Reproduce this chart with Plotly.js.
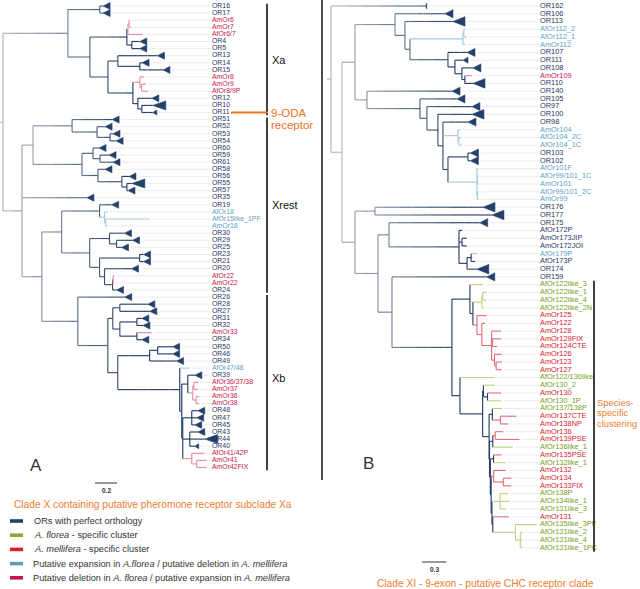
<!DOCTYPE html>
<html><head><meta charset="utf-8">
<script src="https://cdn.plot.ly/plotly-3.0.1.min.js"></script>
<style>html,body{margin:0;padding:0;background:#fff}#chart{width:640px;height:589px}</style>
</head><body><div id="chart"></div>
<script>
// ---------------- DATA ----------------
// Tree A: Clade X (branch lengths in substitutions/site)
const treeA = `(
 ((OR16:0.03,OR17:0.03):0.29,
  ((((AmOr6:0.01,AmOr7:0.02):0.01,AfOr6/7:0.13):0.01,(OR4:0.073,OR5:0.073):0.045):0.336,
   ((OR13:0.36,(OR14:0.02,OR15:0.21):0.2):0.09,
    ((AmOr8:0.04,(AmOr9:0.04,AfOr8/9P:0.06):0.015):0.064,(OR12:0.127,(OR10:0.1,OR11:0.1):0.036):0.045):0.227):0.164):0.2):0.59,
 (((OR51:0.364,(OR52:0.073,(OR53:0.027,OR54:0.055):0.118):0.227):0.355,
   ((OR60:0.055,(OR59:0.082,OR61:0.118):0.064):0.1,(OR58:0.064,(OR56:0.064,(OR55:0.045,OR57:0.01):0.045):0.218):0.145):0.445):0.1,
  OR35:0.59,
  (((OR19:0.11,(AfOr18:0.03,(AfOr15like_1PF:0.4,AmOr18:0.02):0.01):0.045):0.345,
    ((OR30:0.136,(OR29:0.145,OR25:0.045):0.064):0.18,
     ((OR23:0.036,OR21:0.036):0.364,(OR20:0.245,((AfOr22:0.01,AmOr22:0.01):0.005,OR24:0.036):0.073):0.045):0.09):0.255):0.18,
   (OR26:0.427,
    (((OR28:0.255,OR27:0.273):0.064,((OR31:0.045,OR32:0.055):0.155,(AmOr33:0.136,OR34:0.045):0.155):0.064):0.045,
     (((OR50:0.136,OR46:0.136):0.073,OR49:0.245):0.29,
      (AfOr47/48:0.09,
       ((OR39:0.064,((AfOr36/37/38:0.04,AmOr37:0.04):0.01,(AmOr36:0.03,AmOr38:0.03):0.03):0.045):0.055,
        ((OR48:0.055,OR47:0.045,OR45:0.027):0.082,(OR43:0.073,OR44:0.136,OR40:0.045):0.064,
         (AfOr41/42P:0.118,(AmOr41:0.09,AmOr42FIX:0.09):0.045):0.082):0.009):0.018):0.564):0.09):0.273):0.327):0.18):0.173
);`;

// Tree B: Clade XI
const treeB = `(
 OR162:1.17,
 (((OR106:0.617,
    (OR113:0.593,
     (((AfOr112_2:0.02,AfOr112_1:0.04):0.01,AmOr112:0.03):0.654,
      (OR107:0.235,(OR111:0.1,(OR108:0.136,(AmOr109:0.086,OR110:0.1):0.037):0.086):0.086):0.469):0.062):0.123):0.494,
   (OR140:1.05,
    (OR105:0.457,
     (OR97:0.556,
      (OR100:0.42,
       (OR98:0.309,
        (AmOr104:0.03,(AfOr104_2C:0.03,AfOr104_1C:0.04):0.01):0.185,
        ((OR103:0.03,OR102:0.03):0.247,
         (AfOr101F:0.02,(AfOr99/101_1C:0.02,AmOr101:0.02):0.005,(AfOr99/101_2C:0.02,AmOr99:0.02):0.005):0.358):0.062):0.062):0.136):0.086):0.654):0.148):0.16,
  ((OR176:1.333,OR177:1.444):0.247,
   ((OR175:1.12,
     (AfOr172P:0.04,(AmOr173JIP:0.06,AmOr172JOI:0.06):0.037,((AfOr179P:0.08,AfOr173P:0.05):0.05,OR174:0.12):0.1):0.864):0.136,
    (OR159:1.17,
     ((AfOr122like_3:0.16,
       (((AfOr122like_1:0.05,AfOr122like_4:0.05):0.01,AfOr122like_2N:0.03):0.111,
        (AmOr125:0.12,(AmOr122:0.04,(AmOr128:0.12,(AmOr129FIX:0.11,AmOr124CTE:0.06):0.012,
          (AmOr126:0.09,(AmOr123:0.07,AmOr127:0.07):0.02):0.037):0.12):0.06):0.05):0.037):0.222,
      (AfOr122/130like:0.43,
       ((AfOr130_2:0.14,(AmOr130:0.17,AfOr130_1P:0.17):0.05):0.01,
        ((AfOr137/138P:0.12,(AmOr137CTE:0.2,AmOr138NP:0.1):0.1):0.04,
         (((AmOr136:0.1,AmOr139PSE:0.3):0.03,AfOr136like_1:0.25):0.04,
          ((AmOr135PSE:0.1,AfOr132like_1:0.15):0.04,
           ((AmOr132:0.15,(AmOr134:0.1,AmOr133FIX:0.1):0.12):0.03,
            ((AfOr138P:0.1,AfOr134like_1:0.12,AfOr131like_3:0.08):0.1,
             (AmOr131:0.2,(AfOr135like_3PF:0.27,(AfOr131like_2:0.03,AfOr131like_4:0.03,AfOr131like_1PC:0.03):0.06):0.28):0.01):0.01):0.01):0.01):0.005):0.08):0.28):0.099):0.74):0.173):0.284):0.16):0.136
);`;

// leaf categories
const tealA = ["AfOr18","AfOr15like_1PF","AmOr18","AfOr47/48"];
const crimsonA = ["AmOr6","AmOr7","AfOr6/7","AmOr8","AmOr9","AfOr8/9P","AfOr22","AmOr22","AmOr33",
  "AfOr36/37/38","AmOr37","AmOr36","AmOr38","AfOr41/42P","AmOr41","AmOr42FIX"];
const tealB = ["AfOr112_2","AfOr112_1","AmOr112","AmOr104","AfOr104_2C","AfOr104_1C","AfOr101F",
  "AfOr99/101_1C","AmOr101","AfOr99/101_2C","AmOr99","AfOr179P"];
const crimsonB = ["AmOr109"];
const redB = ["AmOr125","AmOr122","AmOr128","AmOr129FIX","AmOr124CTE","AmOr126","AmOr123","AmOr127",
  "AmOr130","AmOr137CTE","AmOr138NP","AmOr136","AmOr139PSE","AmOr135PSE","AmOr132","AmOr134","AmOr133FIX","AmOr131"];
const greenB = ["AfOr122like_3","AfOr122like_1","AfOr122like_4","AfOr122like_2N","AfOr122/130like","AfOr130_2",
  "AfOr130_1P","AfOr137/138P","AfOr136like_1","AfOr132like_1","AfOr138P","AfOr134like_1","AfOr131like_3",
  "AfOr135like_3PF","AfOr131like_2","AfOr131like_4","AfOr131like_1PC"];

// collapsed-clade triangle sizes
const bigTriA = ["OR10","OR55","OR44"];
const smallTriA = ["OR11","OR40"];
const bigTriB = ["OR113","OR110","OR100","OR177","OR174","OR176"];
const smallTriB = ["OR111"];
const tickTriB = ["OR162"];

// subclades
const cladeNamesA = ["Xa","Xrest","Xb"];
const cladeFirstA = ["OR16","OR51","OR26"];
const cladeLastA  = ["OR11","OR24","AmOr42FIX"];
const cladeFirstB = "AfOr122like_3", cladeLastB = "AfOr131like_1PC";
const cladeNoteB = ["Species-","specific","clustering"];

const scaleA = 0.2, scaleB = 0.3;
const titleA = "Clade X containing putative pheromone receptor subclade Xa";
const titleB = "Clade XI - 9-exon - putative CHC receptor clade";
const legendLabels = ["ORs with perfect orthology","<i>A. florea</i> - specific cluster",
  "<i>A. mellifera</i> - specific cluster",
  "Putative expansion in <i>A.florea</i> / putative deletion in <i>A. mellifera</i>",
  "Putative deletion in <i>A. florea</i> / putative expansion in <i>A. mellifera</i>"];
const legendColors = ["#1f4068","#8aaa2a","#e0202a","#5f9fa8","#c8165a"];

// ---------------- STYLE / GEOMETRY ----------------
const W = 640, H = 589;
const FONT = "Liberation Sans, Arial, sans-serif";
const textColor = {navy:"#1f3764", teal:"#5ea3c6", crimson:"#cc1746", red:"#d81b2c", green:"#76a016"};
const branchColor = {teal:"#a6cbe0", crimson:"#e890a4", red:"#e3707e", green:"#c9cd84"};
const triColor = "#24406a";
const gradA = "#b0b4ba", gradB = "#263f66", NB = 8;
const cfgA = {ppu:110, rootPx:3, ppl:7.1, top:6, labelPx:212, tri:{n:[7,7],big:[13,9],small:[4,5]}, fs:6.9, xa:'x', ya:'y'};
const cfgB = {ppu:81, rootPx:331, ppl:7.74, top:6, labelPx:540, tri:{n:[8,8],big:[12,9.5],small:[5,6]}, fs:7.4, xa:'x2', ya:'y2'};

function parseNewick(str){
  const s = str.replace(/\s+/g,'');
  let i = 0;
  function node(){
    const n = {children:[], name:'', len:0};
    if (s[i] === '('){
      i++;
      n.children.push(node());
      while (s[i] === ','){ i++; n.children.push(node()); }
      i++;
    }
    let name = '';
    while (i < s.length && !',:();'.includes(s[i])) name += s[i++];
    n.name = name;
    if (s[i] === ':'){ i++; let num=''; while (i < s.length && !',();'.includes(s[i])) num += s[i++]; n.len = parseFloat(num); }
    return n;
  }
  return node();
}
function layoutTree(root){
  const leaves = []; let idx = 0;
  (function place(n, px){
    n.x = px + n.len;
    if (!n.children.length){ n.y = idx++; leaves.push(n); }
    else { n.children.forEach(c => place(c, n.x)); n.y = (n.children[0].y + n.children[n.children.length-1].y)/2; }
  })(root, 0);
  return leaves;
}
function hex2rgb(h){ return [1,3,5].map(k=>parseInt(h.slice(k,k+2),16)); }
function mix(a,b,t){ const A=hex2rgb(a),B=hex2rgb(b); return 'rgb('+A.map((v,k)=>Math.round(v+(B[k]-v)*t)).join(',')+')'; }
const shades = Array.from({length:NB},(_,k)=>mix(gradA,gradB,k/(NB-1)));

function buildTree(newick, cfg, catFn, triBig, triSmall, triTick){
  const root = parseNewick(newick); root.len = 0;
  const leaves = layoutTree(root);
  let maxD = 0; leaves.forEach(l=>{ if (l.x>maxD) maxD=l.x; });
  (function cat(n){
    if (!n.children.length){ n.cat = catFn(n.name); return; }
    n.children.forEach(cat);
    const c0 = n.children[0].cat;
    n.cat = (c0 !== 'navy' && c0 !== 'mix' && n.children.every(c=>c.cat===c0)) ? c0 : 'mix';
  })(root);
  const grad = d => shades[Math.round(Math.max(0,Math.min(1,(d-0.05)/(0.6*maxD)))*(NB-1))];
  const groups = {};
  const add = (col,x0,y0,x1,y1)=>{ const g = groups[col]||(groups[col]={x:[],y:[]}); g.x.push(x0,x1,null); g.y.push(y0,y1,null); };
  (function visit(n, p){
    const cc = branchColor[n.cat];
    if (p){
      if (cc) add(cc, p.x, n.y, n.x, n.y);
      else {
        const k = Math.max(1, Math.ceil((n.x-p.x)/0.1));
        for (let j=0;j<k;j++){ const a = p.x+(n.x-p.x)*j/k, b = p.x+(n.x-p.x)*(j+1)/k; add(grad((a+b)/2), a, n.y, b, n.y); }
      }
    } else {
      add(grad(0), -4/cfg.ppu, n.y, 0, n.y);
    }
    if (n.children.length){
      add(cc || grad(n.x), n.x, n.children[0].y, n.x, n.children[n.children.length-1].y);
      n.children.forEach(c=>visit(c,n));
    }
  })(root, null);
  const traces = [];
  Object.keys(groups).forEach(col=>{
    traces.push({type:'scatter', mode:'lines', x:groups[col].x, y:groups[col].y, xaxis:cfg.xa, yaxis:cfg.ya,
      line:{color:col, width:1.15}, hoverinfo:'skip', showlegend:false});
  });
  // triangles + leader lines
  const tx=[], ty=[], lx=[], ly=[];
  const labelX = (cfg.labelPx - cfg.rootPx)/cfg.ppu;
  leaves.forEach(l=>{
    let endX = l.x;
    if (l.name.startsWith('OR')){
      let sz = cfg.tri.n;
      if (triBig.includes(l.name)) sz = cfg.tri.big;
      if (triSmall.includes(l.name)) sz = cfg.tri.small;
      if (triTick.includes(l.name)) sz = [1,6];
      const w = sz[0]/cfg.ppu, h = sz[1]/2/cfg.ppl;
      tx.push(l.x, l.x+w, l.x+w, l.x, null); ty.push(l.y, l.y-h, l.y+h, l.y, null);
      endX = l.x + w;
    }
    lx.push(endX + 2/cfg.ppu, labelX - 1/cfg.ppu, null); ly.push(l.y, l.y, null);
  });
  traces.unshift({type:'scatter', mode:'lines', x:lx, y:ly, xaxis:cfg.xa, yaxis:cfg.ya,
    line:{color:'#e6e6e6', width:0.8}, hoverinfo:'skip', showlegend:false});
  traces.push({type:'scatter', mode:'lines', x:tx, y:ty, xaxis:cfg.xa, yaxis:cfg.ya, fill:'toself',
    fillcolor:triColor, line:{color:triColor, width:0.6}, hoverinfo:'skip', showlegend:false});
  traces.push({type:'scatter', mode:'text', x:leaves.map(()=>labelX), y:leaves.map(l=>l.y),
    text:leaves.map(l=>l.name), textposition:'middle right', xaxis:cfg.xa, yaxis:cfg.ya,
    textfont:{family:FONT, size:cfg.fs, color:leaves.map(l=>textColor[l.cat])}, hoverinfo:'skip', showlegend:false});
  return {traces, leaves};
}

const catA = n => tealA.includes(n)?'teal':crimsonA.includes(n)?'crimson':'navy';
const catB = n => tealB.includes(n)?'teal':crimsonB.includes(n)?'crimson':redB.includes(n)?'red':greenB.includes(n)?'green':'navy';
const TA = buildTree(treeA, cfgA, catA, bigTriA, smallTriA, []);
const TB = buildTree(treeB, cfgB, catB, bigTriB, smallTriB, tickTriB);
const leafY = (T,name) => T.leaves.find(l=>l.name===name).y;

const px = v => v/W, py = v => 1 - v/H;
const ann = (text,x,y,size,color,extra) => Object.assign({text, x:px(x), y:py(y), xref:'paper', yref:'paper',
  showarrow:false, xanchor:'left', yanchor:'middle', font:{family:FONT,size,color}}, extra||{});

const shapes = [], annotations = [];
// panel separator
shapes.push({type:'line', xref:'paper', yref:'paper', x0:px(322), x1:px(322), y0:py(0), y1:py(480), line:{color:'#222', width:1.6}});
// subclade bars A
cladeNamesA.forEach((nm,k)=>{
  const y0 = leafY(TA,cladeFirstA[k]) - 0.3, y1 = leafY(TA,cladeLastA[k]) + 0.4;
  shapes.push({type:'line', xref:'paper', yref:'y', x0:px(267), x1:px(267), y0, y1, line:{color:'#111', width:1.6}});
  annotations.push(Object.assign(ann(nm, 270, 0, 11, '#111'), {yref:'y', y:(y0+y1)/2 - (k===2?0.6:0)}));
});
// 9-ODA receptor
const y11 = leafY(TA,'OR11');
shapes.push({type:'line', xref:'paper', yref:'y', x0:px(231), x1:px(268), y0:y11, y1:y11, line:{color:'#f0701e', width:1.8}});
annotations.push(Object.assign(ann('9-ODA', 269, 0, 11.5, '#f0701e'), {yref:'y', y:y11}));
annotations.push(Object.assign(ann('receptor', 269, 0, 11.5, '#f0701e'), {yref:'y', y:y11+1.75}));
// subclade bar B
const yb0 = leafY(TB,cladeFirstB)-0.5, yb1 = leafY(TB,cladeLastB)+0.5;
shapes.push({type:'line', xref:'paper', yref:'y2', x0:px(594), x1:px(594), y0:yb0, y1:yb1, line:{color:'#111', width:1.6}});
cladeNoteB.forEach((t,k)=>annotations.push(ann(t, 595, 402+k*10.6, 9.4, '#ef7d2e')));
// panel letters
annotations.push(ann('A', 28, 465, 17, '#333'));
annotations.push(ann('B', 361, 463, 17, '#333'));
// scale bars
const sA0 = (95-cfgA.rootPx)/cfgA.ppu, sB0 = (422-cfgB.rootPx)/cfgB.ppu;
shapes.push({type:'line', xref:'x', yref:'paper', x0:sA0, x1:sA0+scaleA, y0:py(483), y1:py(483), line:{color:'#333', width:1}});
shapes.push({type:'line', xref:'x2', yref:'paper', x0:sB0, x1:sB0+scaleB, y0:py(562), y1:py(562), line:{color:'#333', width:1}});
annotations.push(Object.assign(ann('<b>'+scaleA+'</b>', 0, 490, 6.5, '#333'), {xref:'x', x:sA0+scaleA/2, xanchor:'center'}));
annotations.push(Object.assign(ann('<b>'+scaleB+'</b>', 0, 569, 6.5, '#333'), {xref:'x2', x:sB0+scaleB/2, xanchor:'center'}));
// titles
annotations.push(ann(titleA, 12, 504, 10.2, '#ef7d2e'));
annotations.push(Object.assign(ann(titleB, 485, 583, 10.2, '#ef7d2e'), {xanchor:'center'}));
// legend
legendLabels.forEach((t,k)=>{
  const yy = 521 + k*14.2;
  shapes.push({type:'rect', xref:'paper', yref:'paper', x0:px(10), x1:px(23), y0:py(yy-1.8), y1:py(yy+1.8), fillcolor:legendColors[k], line:{width:0}});
  annotations.push(ann(t, k<3?32:31, yy, 9.2, '#333'));
});

const layout = {
  width:W, height:H, margin:{l:0,r:0,t:0,b:0}, paper_bgcolor:'#fff', plot_bgcolor:'#fff', showlegend:false,
  xaxis:{range:[-cfgA.rootPx/cfgA.ppu, (W-cfgA.rootPx)/cfgA.ppu], visible:false, fixedrange:true},
  yaxis:{range:[(H-cfgA.top)/cfgA.ppl, -cfgA.top/cfgA.ppl], visible:false, fixedrange:true},
  xaxis2:{range:[-cfgB.rootPx/cfgB.ppu, (W-cfgB.rootPx)/cfgB.ppu], visible:false, overlaying:'x', fixedrange:true},
  yaxis2:{range:[(H-cfgB.top)/cfgB.ppl, -cfgB.top/cfgB.ppl], visible:false, overlaying:'y', fixedrange:true},
  shapes, annotations
};
Plotly.newPlot('chart', TA.traces.concat(TB.traces), layout, {displayModeBar:false, staticPlot:true});
</script></body></html>
